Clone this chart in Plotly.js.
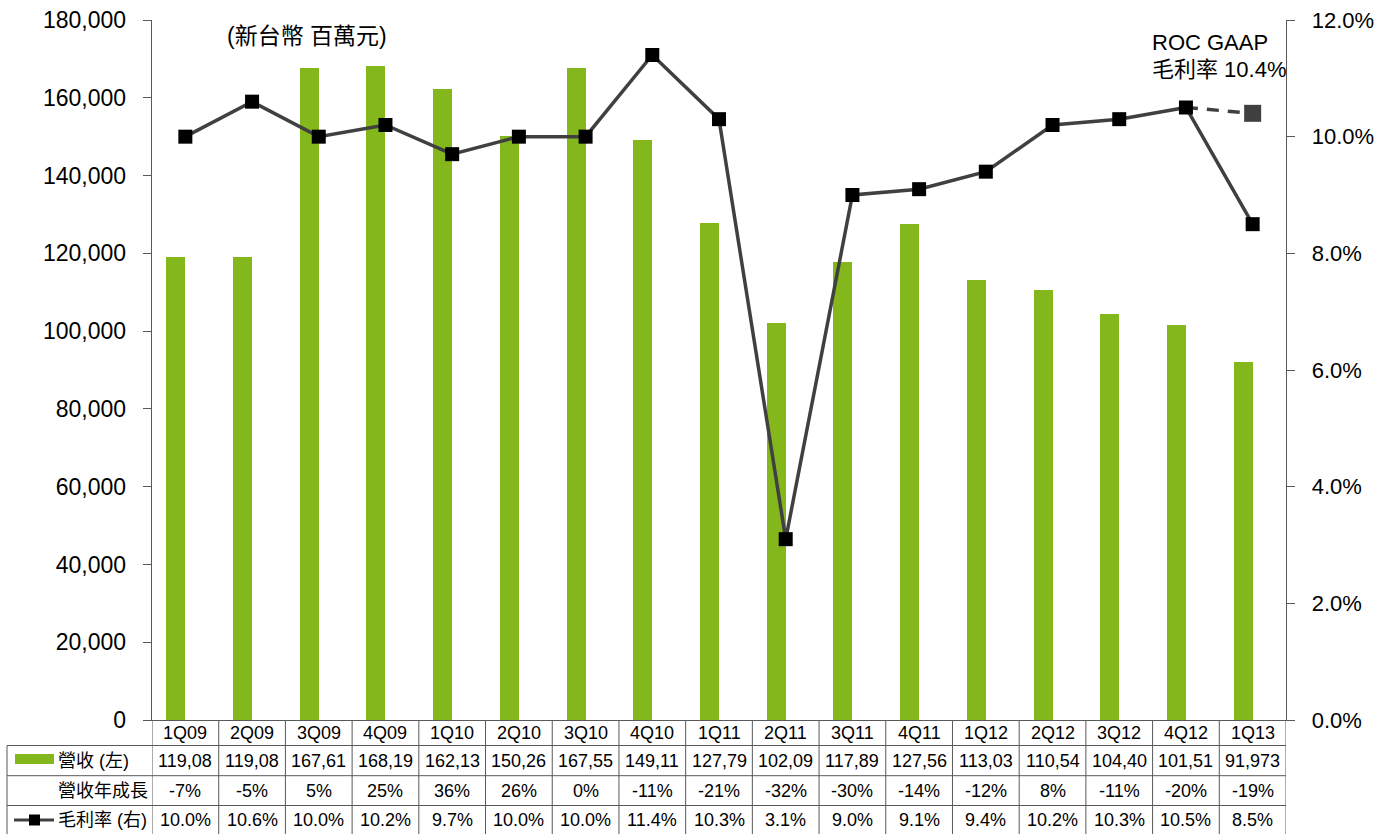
<!DOCTYPE html>
<html>
<head>
<meta charset="utf-8">
<script src="https://cdn.plot.ly/plotly-3.0.1.min.js"></script>
<style>html,body{margin:0;padding:0;background:#fff;}#chart{width:1379px;height:834px;}</style>
</head>
<body>
<div id="chart"></div>
<script>
const categories = ['1Q09','2Q09','3Q09','4Q09','1Q10','2Q10','3Q10','4Q10','1Q11','2Q11','3Q11','4Q11','1Q12','2Q12','3Q12','4Q12','1Q13'];
const revenue = [119080,119080,167610,168190,162130,150260,167550,149110,127790,102090,117890,127560,113030,110540,104400,101510,91973];
const revenueLabels = ['119,08','119,08','167,61','168,19','162,13','150,26','167,55','149,11','127,79','102,09','117,89','127,56','113,03','110,54','104,40','101,51','91,973'];
const growthLabels = ['-7%','-5%','5%','25%','36%','26%','0%','-11%','-21%','-32%','-30%','-14%','-12%','8%','-11%','-20%','-19%'];
const grossMargin = [10.0,10.6,10.0,10.2,9.7,10.0,10.0,11.4,10.3,3.1,9.0,9.1,9.4,10.2,10.3,10.5,8.5];
const marginLabels = ['10.0%','10.6%','10.0%','10.2%','9.7%','10.0%','10.0%','11.4%','10.3%','3.1%','9.0%','9.1%','9.4%','10.2%','10.3%','10.5%','8.5%'];
const rocGaapX = ['4Q12','1Q13'];
const rocGaapY = [10.5,10.4];
const rowLabels = ['營收 (左)','營收年成長','毛利率 (右)'];
const unitNote = '(新台幣 百萬元)';
const rocNote1 = 'ROC GAAP';
const rocNote2 = '毛利率 10.4%';

const W = 1379, H = 834;
const mL = 152, mR = 93, mT = 20, mB = 114;
const pw = W - mL - mR, ph = H - mT - mB;
const px = x => (x - mL) / pw;          // pixel -> paper x
const py = y => 1 - (y - mT) / ph;      // pixel -> paper y

const FONT = 'Liberation Sans, Arial, Noto Sans CJK TC, sans-serif';
const GREEN = '#84b71b';
const LINE = '#404040';
const GRID = '#595959';

const traces = [
  {
    type: 'bar', x: categories, y: revenue, width: 0.285, offset: -0.285,
    marker: {color: GREEN}, hoverinfo: 'x+y', showlegend: false
  },
  {
    type: 'scatter', mode: 'lines', x: rocGaapX, y: rocGaapY, yaxis: 'y2',
    line: {color: LINE, width: 3.5, dash: '12px,9px'},
    showlegend: false
  },
  {
    type: 'scatter', mode: 'markers', x: rocGaapX.slice(1), y: rocGaapY.slice(1), yaxis: 'y2',
    marker: {symbol: 'square', size: 17, color: LINE, opacity: 1, line: {width: 0}},
    showlegend: false
  },
  {
    type: 'scatter', mode: 'lines+markers', x: categories, y: grossMargin, yaxis: 'y2',
    line: {color: LINE, width: 3.5},
    marker: {symbol: 'square', size: 14, color: '#000000', line: {width: 0}},
    showlegend: false
  }
];

const shapes = [];
const annotations = [];
const rowY = [745.5, 775.7, 805.5];
const bottomY = 840;
rowY.forEach(y => shapes.push({type:'line', xref:'paper', yref:'paper', x0:px(7), x1:1, y0:py(y), y1:py(y), line:{color:GRID, width:1}}));
for (let k = 0; k <= categories.length; k++) {
  shapes.push({type:'line', xref:'x', yref:'paper', x0:k-0.5, x1:k-0.5, y0:0, y1:py(bottomY), line:{color:GRID, width:1}});
}
shapes.push({type:'line', xref:'paper', yref:'paper', x0:px(7), x1:px(7), y0:py(745.5), y1:py(bottomY), line:{color:GRID, width:1}});
shapes.push({type:'rect', xref:'paper', yref:'paper', x0:px(15), x1:px(54), y0:py(754), y1:py(764), fillcolor:GREEN, line:{width:0}});
shapes.push({type:'line', xref:'paper', yref:'paper', x0:px(14), x1:px(54), y0:py(820), y1:py(820), line:{color:LINE, width:3}});
shapes.push({type:'rect', xref:'paper', yref:'paper', x0:px(29), x1:px(40), y0:py(814.5), y1:py(825.5), fillcolor:'#000', line:{width:0}});

// category row
categories.forEach(c => annotations.push({xref:'x', yref:'paper', x:c, y:py(733), text:c, showarrow:false, xanchor:'center', yanchor:'middle', font:{family:FONT, size:18, color:'#000'}}));

const rowCenters = [760.5, 790.5, 820];
const rowTexts = [revenueLabels, growthLabels, marginLabels];
rowTexts.forEach((arr, r) => {
  arr.forEach((t, i) => annotations.push({xref:'x', yref:'paper', x:categories[i], y:py(rowCenters[r]), text:t, showarrow:false, xanchor:'center', yanchor:'middle', font:{family:FONT, size:18, color:'#000'}}));
  annotations.push({xref:'paper', yref:'paper', x:px(56), y:py(rowCenters[r]), text:rowLabels[r], showarrow:false, xanchor:'left', yanchor:'middle', font:{family:FONT, size:18, color:'#000'}});
});
annotations.push({xref:'paper', yref:'paper', x:px(225), y:py(36), text:unitNote, showarrow:false, xanchor:'left', yanchor:'middle', font:{family:FONT, size:23, color:'#000'}});
annotations.push({xref:'paper', yref:'paper', x:px(1150), y:py(43), text:rocNote1, showarrow:false, xanchor:'left', yanchor:'middle', font:{family:FONT, size:22, color:'#000'}});
annotations.push({xref:'paper', yref:'paper', x:px(1150), y:py(70), text:rocNote2, showarrow:false, xanchor:'left', yanchor:'middle', font:{family:FONT, size:22, color:'#000'}});

const layout = {
  width: W, height: H,
  margin: {l: mL, r: mR, t: mT, b: mB, pad: 0},
  paper_bgcolor: '#fff', plot_bgcolor: '#fff',
  font: {family: FONT, color: '#000'},
  showlegend: false,
  bargap: 0,
  xaxis: {
    type: 'category', categoryorder: 'array', categoryarray: categories,
    range: [-0.5, categories.length - 0.5],
    showline: true, linecolor: GRID, linewidth: 1, ticks: '', showgrid: false, zeroline: false,
    showticklabels: false
  },
  yaxis: {
    range: [0, 180000], dtick: 20000, tickformat: ',d',
    showline: true, linecolor: GRID, linewidth: 1.3, ticks: 'outside', ticklen: 8, tickcolor: GRID,
    showgrid: false, zeroline: false, tickfont: {family: FONT, size: 23, color: '#000'}, ticklabelstandoff: 12
  },
  yaxis2: {
    overlaying: 'y', side: 'right', range: [0, 12], dtick: 2, tickformat: '.1f', ticksuffix: '%',
    showline: true, linecolor: GRID, linewidth: 1.3, ticks: 'outside', ticklen: 8, tickcolor: GRID,
    showgrid: false, zeroline: false, tickfont: {family: FONT, size: 22, color: '#000'}, ticklabelstandoff: 12
  },
  shapes: shapes,
  annotations: annotations
};

Plotly.newPlot('chart', traces, layout, {displayModeBar: false, staticPlot: true});
</script>
</body>
</html>
